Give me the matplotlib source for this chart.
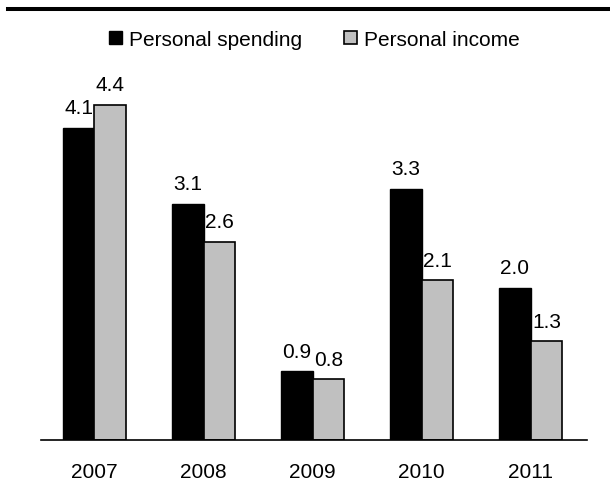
import matplotlib.pyplot as plt
import numpy as np
from matplotlib.lines import Line2D

plt.rcParams['font.family'] = ['Liberation Sans', 'DejaVu Sans']

years = ['2007', '2008', '2009', '2010', '2011']
spending = [4.1, 3.1, 0.9, 3.3, 2.0]
income = [4.4, 2.6, 0.8, 2.1, 1.3]


def main():
    fig = plt.figure(figsize=(6.1, 5.02), dpi=100)
    ax = fig.add_axes([0.0672, 0.1215, 0.895, 0.7165])

    x = np.arange(len(years))
    w = 0.29
    b1 = ax.bar(x - w / 2, spending, w, color='black', edgecolor='black',
                linewidth=1, label='Personal spending')
    b2 = ax.bar(x + w / 2, income, w, color='#c0c0c0', edgecolor='black',
                linewidth=1.2, label='Personal income')

    # 数值标签
    for bars, vals in ((b1, spending), (b2, income)):
        for r, v in zip(bars, vals):
            ax.annotate(f'{v:.1f}', (r.get_x() + r.get_width() / 2, v),
                        xytext=(0, 7.5), textcoords='offset points',
                        ha='center', va='bottom', fontsize=15)

    ax.set_xlim(-0.49, 4.515)
    ax.set_ylim(0, 4.72)
    ax.set_xticks(x)
    ax.set_xticklabels(years, fontsize=15)
    ax.tick_params(axis='x', length=0, pad=16)
    ax.set_yticks([])
    for s in ('top', 'left', 'right'):
        ax.spines[s].set_visible(False)
    ax.spines['bottom'].set_linewidth(1.2)

    fig.legend(loc='center', bbox_to_anchor=(0.5156, 0.920), ncol=2,
               frameon=False, fontsize=15, handlelength=0.6, handleheight=0.6,
               handletextpad=0.35, columnspacing=2.0)

    # 顶部粗线
    fig.add_artist(Line2D([0.013, 1.0], [0.980, 0.980], color='black',
                          linewidth=2.9, transform=fig.transFigure))

    fig.savefig('out.png', dpi=100)


if __name__ == '__main__':
    main()
